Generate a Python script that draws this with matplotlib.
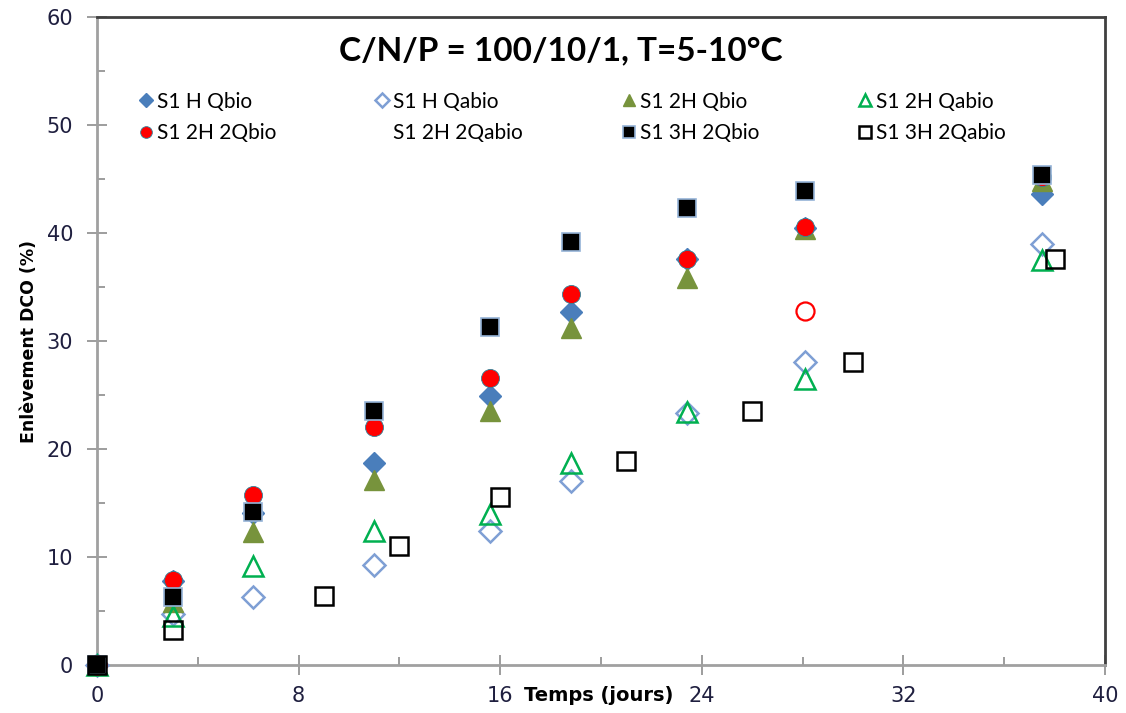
import matplotlib
matplotlib.use("Agg")
import matplotlib.pyplot as plt
from matplotlib.lines import Line2D
from matplotlib.ticker import MultipleLocator

# ── Data: COD removal (%) vs time (days) ──────────────────────────────────────
t_main  = [0, 3.0, 6.2, 11.0, 15.6, 18.8, 23.4, 28.1, 37.5]
t_abio3 = [0, 3.0, 9.0, 12.0, 16.0, 21.0, 26.0, 30.0, 38.0]

h_qbio      = [0, 7.8, 14.1, 18.7, 24.9, 32.7, 37.6, 40.5, 43.6]
h_qabio     = [0, 4.7, 6.3, 9.3, 12.4, 17.0, 23.3, 28.1, 39.0]
h2_qbio     = [0, 5.8, 12.3, 17.1, 23.5, 31.2, 35.8, 40.4, 44.8]
h2_qabio    = [0, 4.5, 9.2, 12.4, 14.0, 18.7, 23.4, 26.5, 37.5]
h2_2qbio    = [0, 7.9, 15.7, 22.0, 26.6, 34.4, 37.6, 40.6, 45.2]
t_h2_2qabio = [0, 28.1]
h2_2qabio   = [0, 32.8]
h3_2qbio    = [0, 6.3, 14.2, 23.5, 31.3, 39.2, 42.3, 43.9, 45.4]
h3_2qabio   = [0, 3.2, 6.4, 11.0, 15.6, 18.9, 23.5, 28.1, 37.6]

TITLE = "C/N/P = 100/10/1, T=5-10°C"

plt.rcParams["font.family"] = ["Lato", "DejaVu Sans"]

fig = plt.figure(figsize=(11.26, 7.13), dpi=100)
ax = fig.add_axes([0.0861, 0.0673, 0.8952, 0.9087])

MS = 13
ax.plot(t_main, h_qbio, ls="none", marker="D", ms=MS - 2, mfc="#4A7EBB",
        mec="#4A7EBB", label="S1 H Qbio")
ax.plot(t_main, h_qabio, ls="none", marker="D", ms=MS - 2, mfc="white",
        mec="#7F9FD4", mew=1.8, label="S1 H Qabio")
ax.plot(t_main, h2_qbio, ls="none", marker="^", ms=MS + 1, mfc="#77933C",
        mec="#77933C", label="S1 2H Qbio")
ax.plot(t_main, h2_qabio, ls="none", marker="^", ms=MS + 1, mfc="none",
        mec="#00B050", mew=1.8, label="S1 2H Qabio")
ax.plot(t_main, h2_2qbio, ls="none", marker="o", ms=MS, mfc="#FF0000",
        mec="#31859C", mew=0.6, label="S1 2H 2Qbio")
ax.plot(t_h2_2qabio, h2_2qabio, ls="none", marker="o", ms=MS, mfc="none",
        mec="#FF0000", mew=1.6, label="S1 2H 2Qabio")
ax.plot(t_main, h3_2qbio, ls="none", marker="s", ms=MS, mfc="black",
        mec="#95B3D7", mew=1.2, label="S1 3H 2Qbio")
ax.plot(t_abio3, h3_2qabio, ls="none", marker="s", ms=MS, mfc="none",
        mec="black", mew=1.8, label="S1 3H 2Qabio")

# axes limits and ticks
ax.set_xlim(0, 40)
ax.set_ylim(0, 60)
ax.xaxis.set_major_locator(MultipleLocator(8))
ax.xaxis.set_minor_locator(MultipleLocator(4))
ax.yaxis.set_major_locator(MultipleLocator(10))
ax.yaxis.set_minor_locator(MultipleLocator(5))
ax.tick_params(which="major", direction="inout", length=14, width=1.2,
               color="#8C8C8C", labelsize=15, labelcolor="#1F1F3F")
ax.tick_params(axis="y", which="major", pad=10)
ax.tick_params(axis="x", which="major", pad=8)
ax.tick_params(which="minor", direction="in", length=6, width=1.2,
               color="#8C8C8C")
for side in ("left", "bottom"):
    ax.spines[side].set_color("#A0A0A0")
    ax.spines[side].set_linewidth(2)
for side in ("top", "right"):
    ax.spines[side].set_color("#404040")
    ax.spines[side].set_linewidth(2)
for lab in ax.get_xticklabels() + ax.get_yticklabels():
    lab.set_family(["DejaVu Sans"])
for ln in ax.lines:
    ln.set_clip_on(False)
    ln.set_zorder(5)

ax.set_ylabel("Enlèvement DCO (%)", fontsize=12.5, fontweight="bold",
              family=["DejaVu Sans"], labelpad=6)
ax.text(19.9, -0.032, "Temps (jours)", transform=ax.get_xaxis_transform(),
        ha="center", va="top", fontsize=14, fontweight="bold",
        family=["DejaVu Sans"])

ax.text(18.4, 56.9, TITLE, ha="center", va="center", fontsize=24,
        fontweight="bold")

# legend: the abiotic 2H 2Q entry carries no visible symbol
handles, labels = ax.get_legend_handles_labels()
handles[5] = Line2D([], [], ls="none", marker="none")
order = [0, 4, 1, 5, 2, 6, 3, 7]
leg = ax.legend([handles[i] for i in order], [labels[i] for i in order],
                ncol=4, loc="upper left", bbox_to_anchor=(0.035, 0.898),
                frameon=False, fontsize=15, markerscale=0.65,
                handlelength=0.55, handletextpad=0.25, columnspacing=4.8,
                labelspacing=0.55, borderaxespad=0)

fig.savefig("out.png", dpi=100)
